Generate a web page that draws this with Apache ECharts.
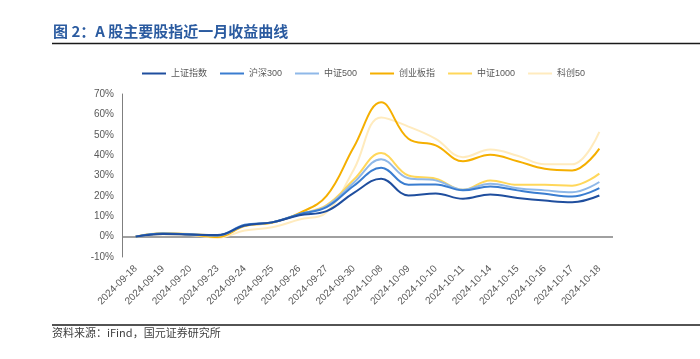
<!DOCTYPE html>
<html>
<head>
<meta charset="utf-8">
<script src="https://cdn.jsdelivr.net/npm/echarts@6/dist/echarts.min.js"></script>
<style>
html,body{margin:0;padding:0;background:#fff;}
#c{width:700px;height:359px;}
</style>
</head>
<body>
<div id="c"></div>
<script>
const categories = ['2024-09-18','2024-09-19','2024-09-20','2024-09-23','2024-09-24','2024-09-25','2024-09-26','2024-09-27','2024-09-30','2024-10-08','2024-10-09','2024-10-10','2024-10-11','2024-10-14','2024-10-15','2024-10-16','2024-10-17','2024-10-18'];
const seriesNames = ['上证指数','沪深300','中证500','创业板指','中证1000','科创50'];
const shangzheng = [0, 1.3, 1.0, 0.8, 5.5, 7.0, 10.5, 12.5, 21.5, 28.4, 20.2, 21.2, 18.6, 20.7, 19.0, 17.7, 16.9, 20.2];
const hs300     = [0, 1.5, 1.1, 0.6, 5.8, 7.0, 11.0, 14.5, 25.0, 33.8, 25.5, 25.6, 22.7, 24.6, 22.7, 21.0, 19.7, 23.8];
const zz500     = [0, 1.5, 1.2, 0.5, 5.5, 7.0, 11.0, 15.0, 26.5, 38.0, 28.6, 27.6, 23.0, 26.0, 23.8, 22.7, 21.8, 26.8];
const cyb       = [0, 1.5, 1.0, -0.2, 5.2, 6.8, 11.5, 20.0, 44.0, 65.9, 48.0, 44.8, 37.0, 40.2, 37.0, 33.3, 32.5, 43.2];
const zz1000    = [0, 1.6, 1.3, 0.5, 5.5, 7.0, 11.0, 15.5, 28.0, 41.0, 30.0, 28.4, 23.0, 27.6, 25.4, 25.4, 25.0, 30.9];
const kc50      = [0, 1.2, 0.8, -0.5, 3.0, 4.6, 8.4, 12.0, 33.0, 58.5, 54.0, 48.0, 39.0, 42.7, 39.7, 35.5, 35.5, 51.4];
const yTicks = [-10, 0, 10, 20, 30, 40, 50, 60, 70];

const values = [shangzheng, hs300, zz500, cyb, zz1000, kc50];
const colors = ['#1F4E9E', '#3A7DD0', '#8FB8E8', '#F5AF00', '#FFD75A', '#FFEBBE'];

const chart = echarts.init(document.getElementById('c'), null, {renderer: 'canvas'});
const series = seriesNames.map((n, i) => ({
  name: n,
  type: 'line',
  data: values[i],
  smooth: 0.4,
  symbol: 'none',
  lineStyle: {width: 2, color: colors[i]},
  itemStyle: {color: colors[i]},
  z: 10 - i,
  markLine: i === 0 ? {
    silent: true,
    symbol: 'none',
    label: {show: false},
    lineStyle: {color: '#808080', width: 1.5, type: 'solid'},
    data: [{yAxis: 0}]
  } : undefined
}));

chart.setOption({
  animation: false,
  backgroundColor: '#fff',
  textStyle: {fontFamily: 'Liberation Sans, Arial, "Noto Sans CJK SC", sans-serif'},
  grid: {left: 122, right: 87, top: 94, bottom: 102},
  legend: {
    data: seriesNames,
    left: 137,
    top: 64,
    icon: 'rect',
    itemWidth: 24,
    itemHeight: 2,
    itemGap: 13,
    textStyle: {fontSize: 9, color: '#595959', fontFamily: 'Liberation Sans, "Noto Sans CJK SC", sans-serif'}
  },
  xAxis: {
    type: 'category',
    data: categories,
    boundaryGap: true,
    axisLine: {show: false, onZero: false},
    axisTick: {show: false},
    axisLabel: {rotate: 45, fontSize: 10, color: '#595959', margin: 10, interval: 0}
  },
  yAxis: {
    type: 'value',
    min: yTicks[0],
    max: yTicks[yTicks.length - 1],
    interval: 10,
    splitLine: {show: false},
    axisLine: {show: true, lineStyle: {color: '#7f7f7f', width: 1}},
    axisTick: {show: false},
    axisLabel: {formatter: '{value}%', fontSize: 10, color: '#595959', margin: 8}
  },
  series: series,
  graphic: [
    {type: 'text', left: 53, top: 24, style: {text: '图 2：A 股主要股指近一月收益曲线', fill: '#2B5BA0', font: 'bold 15px "Noto Sans CJK SC", sans-serif'}},
    {type: 'line', shape: {x1: 52, y1: 43.5, x2: 700, y2: 43.5}, style: {stroke: '#1a1a1a', lineWidth: 1.6}},
    {type: 'line', shape: {x1: 52, y1: 325, x2: 700, y2: 325}, style: {stroke: '#1a1a1a', lineWidth: 1.6}},
    {type: 'text', left: 52, top: 327, style: {text: '资料来源：iFind，国元证券研究所', fill: '#404040', font: '11px "Noto Sans CJK SC", sans-serif'}}
  ]
});
</script>
</body>
</html>
